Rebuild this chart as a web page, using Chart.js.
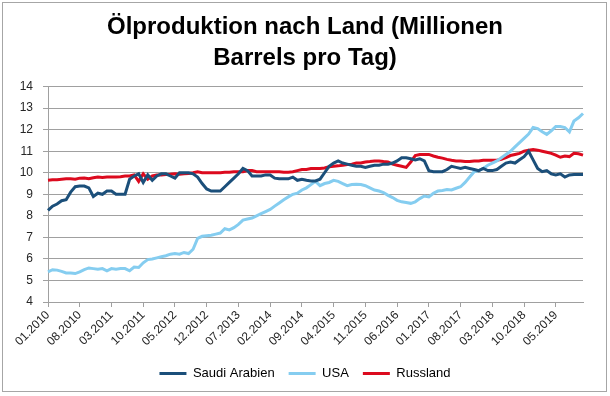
<!DOCTYPE html>
<html>
<head>
<meta charset="utf-8">
<script src="https://cdn.jsdelivr.net/npm/chart.js@4.4.1/dist/chart.umd.min.js"></script>
<style>
  html, body { margin: 0; padding: 0; background: #fff; }
  #wrap { width: 610px; height: 396px; position: relative; }
</style>
</head>
<body>
<div id="wrap"><canvas id="oilChart"></canvas></div>
<script>
// monthly categories 01.2010 .. 11.2019
const monthLabels = [];
for (let y = 2010; y <= 2019; y++) {
  for (let m = 1; m <= 12; m++) {
    if (y === 2019 && m > 11) break;
    monthLabels.push(String(m).padStart(2, "0") + "." + y);
  }
}

// labels that are shown under the x axis
const tickLabels = [
  "01.2010", "08.2010", "03.2011", "10.2011", "05.2012", "12.2012",
  "07.2013", "02.2014", "09.2014", "04.2015", "11.2015", "06.2016",
  "01.2017", "08.2017", "03.2018", "10.2018", "05.2019",
];

const yTicks = [4, 5, 6, 7, 8, 9, 10, 11, 12, 13, 14];

const saudiArabien = [
  8.25, 8.45, 8.55, 8.7, 8.75, 9.1, 9.35, 9.38, 9.38, 9.3, 8.9, 9.05,
  9.0, 9.15, 9.15, 9.0, 9.0, 9.0, 9.7, 9.85, 9.95, 9.55, 9.9, 9.65,
  9.85, 9.95, 9.95, 9.85, 9.75, 10.0, 10.0, 10.0, 9.95, 9.8, 9.5, 9.25,
  9.15, 9.15, 9.15, 9.35, 9.55, 9.75, 9.95, 10.2, 10.1, 9.85, 9.85, 9.85,
  9.9, 9.9, 9.75, 9.72, 9.72, 9.72, 9.8, 9.65, 9.7, 9.65, 9.62, 9.62,
  9.7, 10.0, 10.3, 10.45, 10.55, 10.45, 10.4, 10.35, 10.3, 10.3, 10.25, 10.3,
  10.35, 10.35, 10.4, 10.4, 10.45, 10.55, 10.7, 10.7, 10.65, 10.6, 10.65, 10.55,
  10.1, 10.05, 10.05, 10.05, 10.15, 10.3, 10.25, 10.2, 10.25, 10.2, 10.15, 10.1,
  10.2, 10.1, 10.1, 10.15, 10.3, 10.45, 10.5, 10.45, 10.6, 10.75, 11.0, 10.6,
  10.2, 10.05, 10.1, 9.95, 9.9, 9.95, 9.8, 9.9, 9.92, 9.92, 9.92,
];

const usa = [
  5.4, 5.5, 5.48, 5.42, 5.35, 5.35, 5.32, 5.4, 5.5, 5.58, 5.55, 5.52,
  5.55, 5.45, 5.55, 5.52, 5.55, 5.55, 5.45, 5.62, 5.6, 5.82, 5.97, 6.0,
  6.05, 6.1, 6.15, 6.22, 6.25, 6.22, 6.3, 6.25, 6.45, 6.95, 7.05, 7.08,
  7.1, 7.15, 7.2, 7.4, 7.35, 7.45, 7.6, 7.8, 7.85, 7.9, 8.0, 8.1,
  8.2, 8.3, 8.45, 8.6, 8.75, 8.88, 9.0, 9.05, 9.2, 9.3, 9.45, 9.6,
  9.4, 9.5, 9.55, 9.65, 9.6, 9.5, 9.4, 9.45, 9.47, 9.45, 9.4, 9.3,
  9.2, 9.15, 9.08, 8.95, 8.85, 8.72, 8.65, 8.62, 8.58, 8.65, 8.8, 8.92,
  8.88, 9.05, 9.15, 9.18, 9.22, 9.2, 9.28, 9.35, 9.55, 9.8, 10.05, 10.1,
  10.2, 10.35, 10.45, 10.55, 10.7, 10.85, 11.0, 11.2, 11.4, 11.6, 11.8, 12.1,
  12.05, 11.9, 11.78, 11.95, 12.15, 12.15, 12.1, 11.9, 12.4, 12.55, 12.75,
];

const russland = [
  9.65, 9.67, 9.68, 9.7, 9.72, 9.72, 9.7, 9.75, 9.76, 9.72, 9.77, 9.8,
  9.78, 9.8, 9.8, 9.8, 9.82, 9.85, 9.85, 9.9, 9.6, 9.95, 9.7, 9.85,
  9.9, 9.9, 9.92, 9.93, 9.95, 9.93, 9.95, 9.97, 10.0, 10.05, 10.0, 10.0,
  10.0, 10.0, 10.0, 10.02, 10.02, 10.05, 10.05, 10.05, 10.1, 10.1, 10.05, 10.05,
  10.05, 10.05, 10.05, 10.05, 10.02, 10.02, 10.05, 10.1, 10.15, 10.15, 10.2, 10.2,
  10.2, 10.22, 10.28, 10.3, 10.32, 10.35, 10.38, 10.4, 10.45, 10.45, 10.5, 10.52,
  10.55, 10.55, 10.52, 10.5, 10.4, 10.35, 10.3, 10.25, 10.5, 10.8, 10.85, 10.85,
  10.85, 10.78, 10.72, 10.68, 10.62, 10.58, 10.55, 10.55, 10.52, 10.52, 10.55, 10.55,
  10.58, 10.58, 10.58, 10.58, 10.62, 10.7, 10.8, 10.85, 10.9, 11.0, 11.05, 11.08,
  11.05, 11.0, 10.95, 10.9, 10.82, 10.72, 10.78, 10.75, 10.9, 10.88, 10.82,
];

const textColor = "#262626";
const gridColor = "#a0a0a0";

// white background and thin frame round the whole chart
const framePlugin = {
  id: "frame",
  beforeDraw(chart) {
    const ctx = chart.ctx;
    ctx.save();
    ctx.fillStyle = "#fff";
    ctx.fillRect(0, 0, chart.width, chart.height);
    ctx.strokeStyle = "#a6a6a6";
    ctx.lineWidth = 1;
    ctx.strokeRect(2.5, 2.5, chart.width - 6, chart.height - 7);
    ctx.restore();
  },
};

function lineDataset(label, data, color) {
  return {
    label: label,
    data: data,
    borderColor: color,
    backgroundColor: color,
    borderWidth: 3,
    pointRadius: 0,
    tension: 0,
    yAxisID: "y",
  };
}

const ctx = document.getElementById("oilChart").getContext("2d");
new Chart(ctx, {
  type: "line",
  data: {
    labels: monthLabels,
    datasets: [
      lineDataset("Saudi Arabien", saudiArabien, "#1b4f7a"),
      lineDataset("USA", usa, "#85cdf0"),
      lineDataset("Russland", russland, "#dc0a1e"),
    ],
  },
  options: {
    responsive: true,
    maintainAspectRatio: false,
    animation: false,
    layout: { padding: { left: 0, right: 0, top: 0, bottom: 6 } },
    scales: {
      x: {
        offset: false,
        afterFit: (scale) => { scale.height = 51; },
        border: { display: true, color: gridColor, width: 1 },
        grid: { drawOnChartArea: false, tickLength: 5, color: gridColor },
        ticks: {
          autoSkip: false,
          maxRotation: 45,
          minRotation: 45,
          padding: 1,
          color: textColor,
          font: { family: "Liberation Sans", size: 12 },
          callback: function (value) {
            const lbl = this.getLabelForValue(value);
            return tickLabels.includes(lbl) ? lbl : null;
          },
        },
      },
      y: {
        min: 4,
        max: 14,
        afterFit: (scale) => { scale.width = 48; },
        afterBuildTicks: (scale) => { scale.ticks = yTicks.map((v) => ({ value: v })); },
        border: { display: true, color: gridColor, width: 1 },
        grid: { color: gridColor, tickLength: 5, lineWidth: 1 },
        ticks: {
          padding: 10,
          color: textColor,
          font: { family: "Liberation Sans", size: 12 },
        },
      },
      // empty spacer on the right so the title stays centred on the page
      spacer: {
        position: "right",
        display: true,
        afterFit: (scale) => { scale.width = 27; },
        grid: { display: false },
        border: { display: false },
        ticks: { display: false },
      },
    },
    plugins: {
      title: {
        display: true,
        text: ["Ölproduktion nach Land (Millionen", "Barrels pro Tag)"],
        color: "#000",
        font: { family: "Liberation Sans", size: 24, weight: "bold", lineHeight: 1.3 },
        padding: { top: 11.5, bottom: 12.7 },
      },
      legend: {
        position: "bottom",
        labels: {
          color: textColor,
          font: { family: "Liberation Sans", size: 13 },
          boxWidth: 27,
          boxHeight: 3,
          padding: 14,
          generateLabels: (chart) =>
            chart.data.datasets.map((ds, i) => ({
              text: ds.label,
              fillStyle: ds.borderColor,
              strokeStyle: ds.borderColor,
              lineWidth: 0,
              hidden: false,
              datasetIndex: i,
            })),
        },
      },
      tooltip: { enabled: false },
    },
  },
  plugins: [framePlugin],
});
</script>
</body>
</html>
